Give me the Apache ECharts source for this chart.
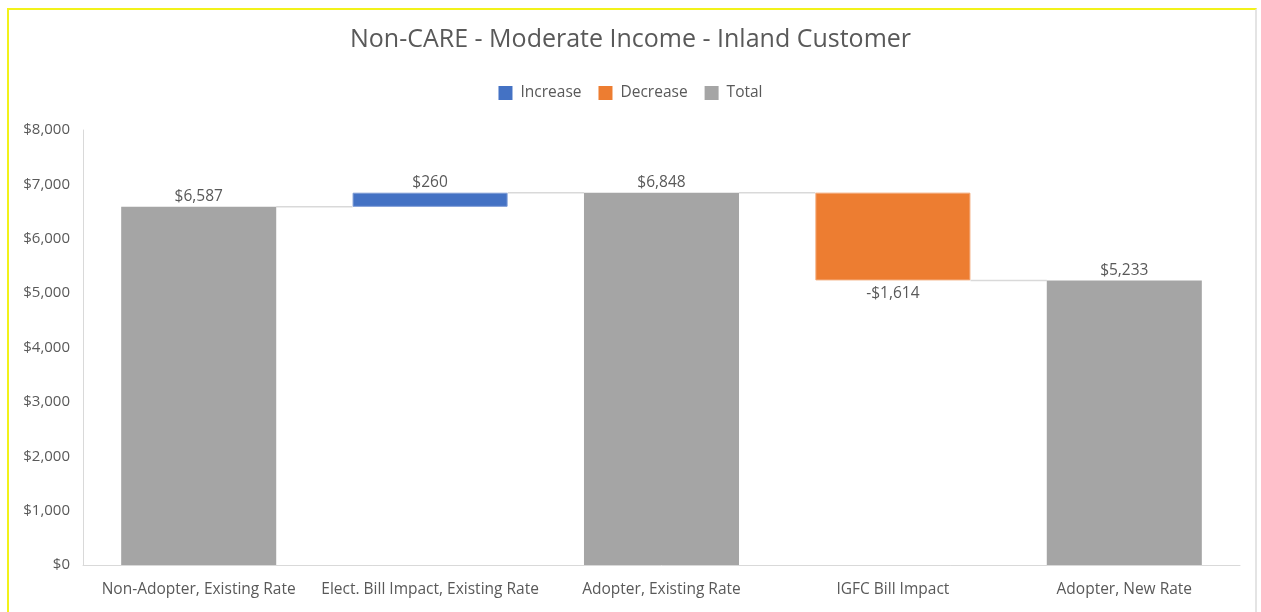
<!DOCTYPE html>
<html>
<head>
<meta charset="utf-8">
<script src="https://cdn.jsdelivr.net/npm/echarts@6/dist/echarts.min.js"></script>
<style>
  html, body { margin: 0; padding: 0; background: #fff; }
  #charts { width: 1261px; height: 612px; }
  #frame {
    position: absolute; left: 7px; top: 8px; width: 1246px; height: 610px;
    border-left: 2px solid #f2f21a; border-top: 2px solid #f2f21a;
    border-right: 2px solid #e4e4e4; pointer-events: none;
  }
</style>
</head>
<body>
<div id="charts"></div>
<div id="frame"></div>
<script>
const categories = ['Non-Adopter, Existing Rate', 'Elect. Bill Impact, Existing Rate', 'Adopter, Existing Rate', 'IGFC Bill Impact', 'Adopter, New Rate'];
// invisible base under the change bars
const baseValues = [0, 6587, 0, 5234, 0];
const increaseValues = ['-', 260, '-', '-', '-'];
const decreaseValues = ['-', '-', '-', 1614, '-'];
const totalValues = [6587, '-', 6848, '-', 5233];
// levels for the connector lines between neighbouring bars
const connectorLevels = [6587, 6848, 6848, 5234];
const yTicks = [0, 1000, 2000, 3000, 4000, 5000, 6000, 7000, 8000];

const money = v => '$' + Math.round(v).toLocaleString('en-US');

var chartDom = document.getElementById('charts');
var myChart = echarts.init(chartDom);

const labelStyle = {
    show: true,
    color: '#595959',
    fontSize: 15.5,
    fontFamily: 'Open Sans'
};

const option = {
    animation: false,
    title: {
        text: 'Non-CARE - Moderate Income - Inland Customer',
        left: 'center',
        top: 22,
        textStyle: {
            color: '#595959',
            fontSize: 25,
            fontWeight: 'normal',
            fontFamily: 'Open Sans'
        }
    },
    legend: {
        top: 80,
        left: 'center',
        itemWidth: 14,
        itemHeight: 14,
        itemGap: 17,
        icon: 'rect',
        itemStyle: {borderWidth: 0},
        data: ['Increase', 'Decrease', 'Total'],
        textStyle: {color: '#595959', fontSize: 15.5, fontFamily: 'Open Sans', padding: [0, 0, 0, 3]}
    },
    grid: {
        left: 83,
        right: 21,
        top: 130,
        bottom: 47
    },
    xAxis: {
        type: 'category',
        data: categories,
        axisLine: {lineStyle: {color: '#d9d9d9'}},
        axisTick: {show: false},
        axisLabel: {
            color: '#595959',
            fontSize: 15.5,
            fontFamily: 'Open Sans',
            margin: 17,
            interval: 0
        }
    },
    yAxis: {
        type: 'value',
        min: 0,
        max: 8000,
        interval: 1000,
        axisLine: {show: true, lineStyle: {color: '#d9d9d9'}},
        splitLine: {show: false},
        axisLabel: {
            color: '#595959',
            fontSize: 15,
            fontFamily: 'Open Sans',
            margin: 13,
            formatter: v => yTicks.includes(v) ? money(v) : ''
        }
    },
    series: [
        {
            name: 'base',
            type: 'bar',
            stack: 'wf',
            barWidth: '67%',
            itemStyle: {color: 'transparent'},
            emphasis: {disabled: true},
            data: baseValues
        },
        {
            name: 'Increase',
            type: 'bar',
            stack: 'wf',
            itemStyle: {color: '#4472c4', borderColor: '#7d9cd6', borderWidth: 1},
            label: {...labelStyle, position: 'top', distance: 2, formatter: p => money(p.value)},
            data: increaseValues
        },
        {
            name: 'Decrease',
            type: 'bar',
            stack: 'wf',
            itemStyle: {color: '#ed7d31', borderColor: '#f3a877', borderWidth: 1},
            label: {...labelStyle, position: 'bottom', distance: 5, formatter: p => '-' + money(p.value)},
            data: decreaseValues
        },
        {
            name: 'Total',
            type: 'bar',
            stack: 'wf',
            itemStyle: {color: '#a5a5a5'},
            label: {...labelStyle, position: 'top', distance: 2, formatter: p => money(p.value)},
            data: totalValues
        },
        {
            name: 'connectors',
            type: 'custom',
            silent: true,
            z: 1,
            renderItem: (params, api) => {
                const i = api.value(0);
                const level = api.value(1);
                const a = api.coord([i, level]);
                const b = api.coord([i + 1, level]);
                const half = api.size([1, 0])[0] * 0.67 / 2;
                return {
                    type: 'line',
                    shape: {x1: a[0] + half, y1: a[1], x2: b[0] - half, y2: b[1]},
                    style: {stroke: '#d9d9d9', lineWidth: 1.5}
                };
            },
            data: connectorLevels.map((v, i) => [i, v])
        }
    ]
};

myChart.setOption(option);
</script>
</body>
</html>
